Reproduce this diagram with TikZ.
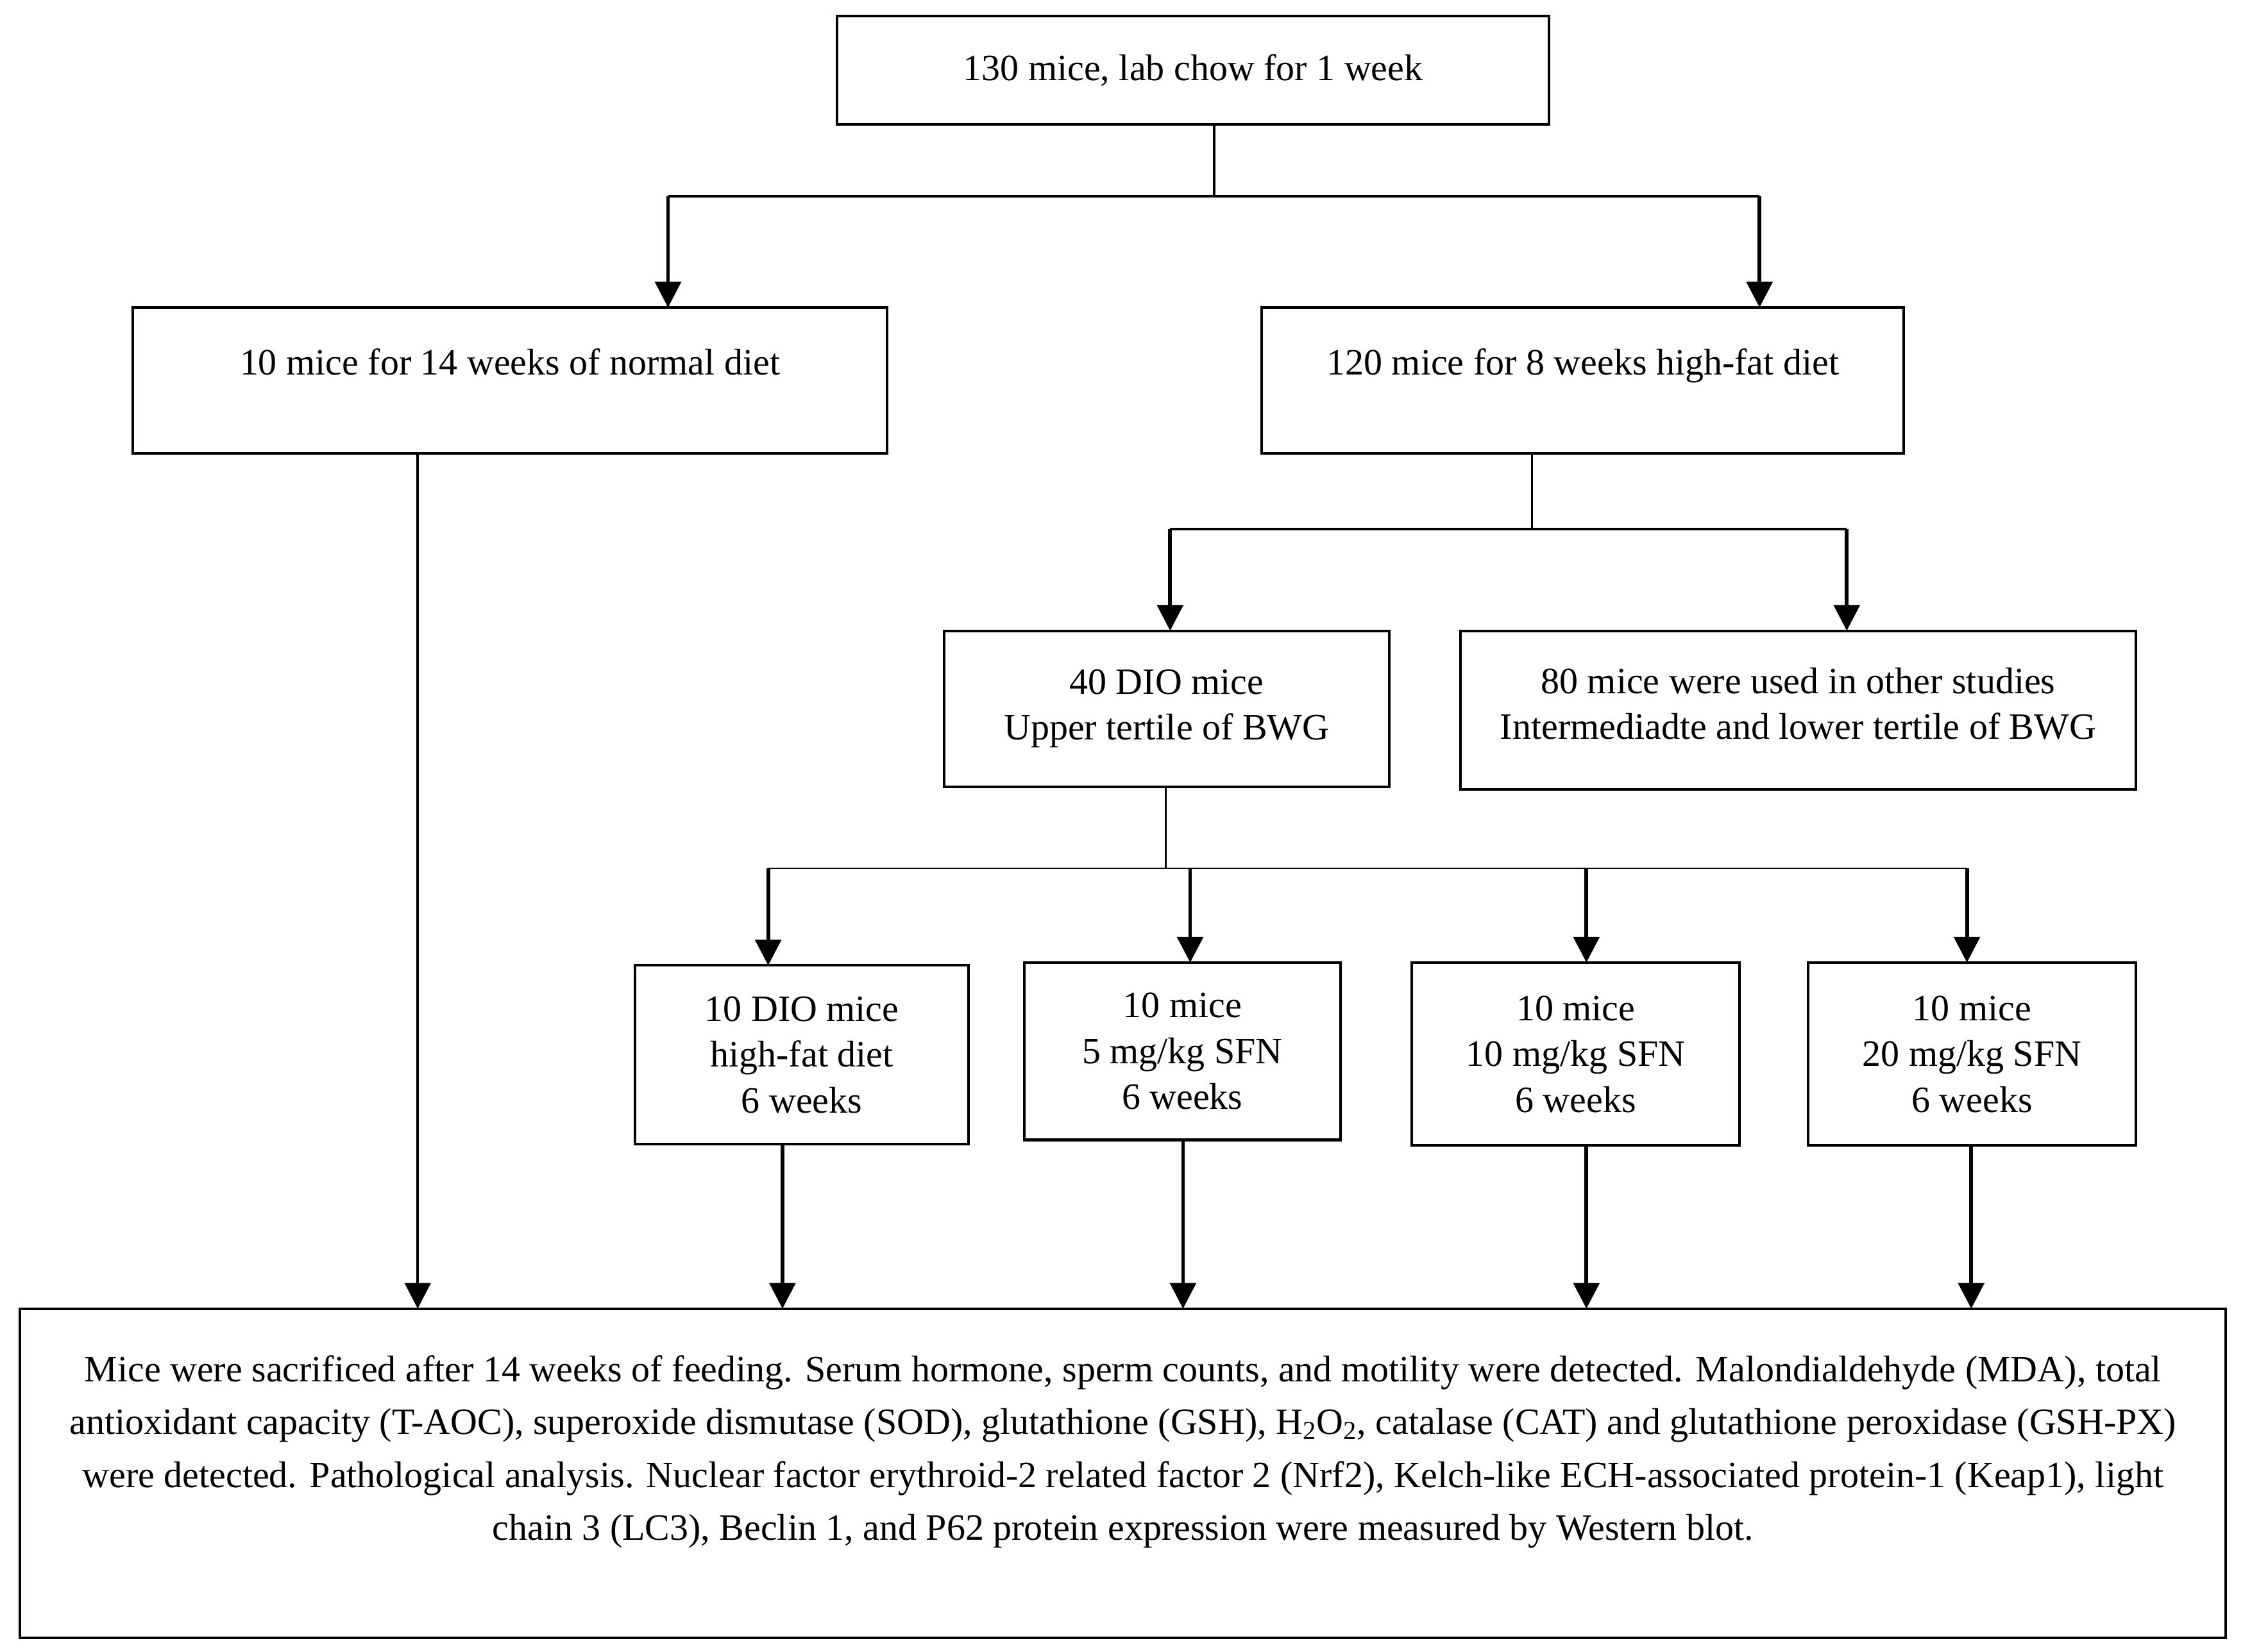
\documentclass[tikz,border=0pt]{standalone}
\usepackage{fontspec}
\setmainfont{Liberation Serif}
\usetikzlibrary{arrows.meta}
\begin{document}
\begin{tikzpicture}[x=1pt,y=-1pt,
 box/.style={draw, line width=1.8pt, inner sep=0pt, outer sep=0pt, align=center, anchor=north west, font=\fontsize{26}{32}\selectfont},
 arr/.style={-{Triangle[length=18pt,width=18pt]}, line width=2.6pt},
 stem/.style={line width=1.8pt},
 thinline/.style={line width=1.1pt},
 txt/.style={align=center, inner sep=0pt, font=\fontsize{26}{37}\selectfont}]
\useasboundingbox (0,0) rectangle (1568,1155);
% boxes
\node[box, minimum width=498pt, minimum height=76pt] (top) at (585,11) {130 mice, lab chow for 1 week};
\node[box, minimum width=527pt, minimum height=102pt] (left) at (93,215) {\raisebox{4pt}[0pt][0pt]{10 mice for 14 weeks of normal diet}};
\node[box, minimum width=449pt, minimum height=102pt] (right) at (882,215) {\raisebox{4pt}[0pt][0pt]{120 mice for 8 weeks high-fat diet}};
\node[box, minimum width=311pt, minimum height=109pt] (dio) at (660,441) {40 DIO mice\\Upper tertile of BWG};
\node[box, minimum width=472pt, minimum height=111pt] (other) at (1021,441) {80 mice were used in other studies\\Intermediadte and lower tertile of BWG\strut};
\node[box, minimum width=233pt, minimum height=125pt] (g1) at (444,675) {10 DIO mice\\high-fat diet\\6 weeks};
\node[box, minimum width=221pt, minimum height=124pt] (g2) at (716,673) {10 mice\\5 mg/kg SFN\\6 weeks};
\node[box, minimum width=229pt, minimum height=128pt] (g3) at (987,673) {10 mice\\10 mg/kg SFN\\6 weeks};
\node[box, minimum width=229pt, minimum height=128pt] (g4) at (1264,673) {10 mice\\20 mg/kg SFN\\6 weeks};
\node[box, minimum width=1542pt, minimum height=230pt] (bottom) at (14,915) {};
\node[txt] (btext) at (785,1015) {Mice were sacrificed after 14 weeks of feeding. Serum hormone, sperm counts, and motility were detected. Malondialdehyde (MDA), total\\
antioxidant capacity (T-AOC), superoxide dismutase (SOD), glutathione (GSH), H\textsubscript{2}O\textsubscript{2}, catalase (CAT) and glutathione peroxidase (GSH-PX)\\
were detected. Pathological analysis. Nuclear factor erythroid-2 related factor 2 (Nrf2), Kelch-like ECH-associated protein-1 (Keap1), light\\
chain 3 (LC3), Beclin 1, and P62 protein expression were measured by Western blot.};
% split 1
\coordinate (j1) at (849,137);
\coordinate (j1a) at (467,137);
\coordinate (j1b) at (1230,137);
\draw[stem] (j1 |- top.south) -- (j1);
\draw[stem] (j1a) -- (j1b);
\draw[arr] (j1a) -- (j1a |- left.north);
\draw[arr] (j1b) -- (j1b |- right.north);
% split 2
\coordinate (j2) at (1071,370);
\coordinate (j2a) at (818,370);
\coordinate (j2b) at (1291,370);
\draw[thinline] (j2 |- right.south) -- (j2);
\draw[stem] (j2a) -- (j2b);
\draw[arr] (j2a) -- (j2a |- dio.north);
\draw[arr] (j2b) -- (j2b |- other.north);
% split 3
\coordinate (j3) at (815,607);
\coordinate (j3a) at (537,607);
\coordinate (j3b) at (832,607);
\coordinate (j3c) at (1109,607);
\coordinate (j3d) at (1375,607);
\draw[thinline] (j3 |- dio.south) -- (j3);
\draw[thinline] (j3a) -- (j3d);
\draw[arr] (j3a) -- (j3a |- g1.north);
\draw[arr] (j3b) -- (j3b |- g2.north);
\draw[arr] (j3c) -- (j3c |- g3.north);
\draw[arr] (j3d) -- (j3d |- g4.north);
% to bottom
\coordinate (l1) at (292,320);
\draw[arr, line width=2pt] (l1 |- left.south) -- (l1 |- bottom.north);
\coordinate (o1) at (547,850);
\coordinate (o2) at (827,850);
\coordinate (o3) at (1109,850);
\coordinate (o4) at (1378,850);
\draw[arr] (o1 |- g1.south) -- (o1 |- bottom.north);
\draw[arr] (o2 |- g2.south) -- (o2 |- bottom.north);
\draw[arr] (o3 |- g3.south) -- (o3 |- bottom.north);
\draw[arr] (o4 |- g4.south) -- (o4 |- bottom.north);
\end{tikzpicture}
\end{document}
